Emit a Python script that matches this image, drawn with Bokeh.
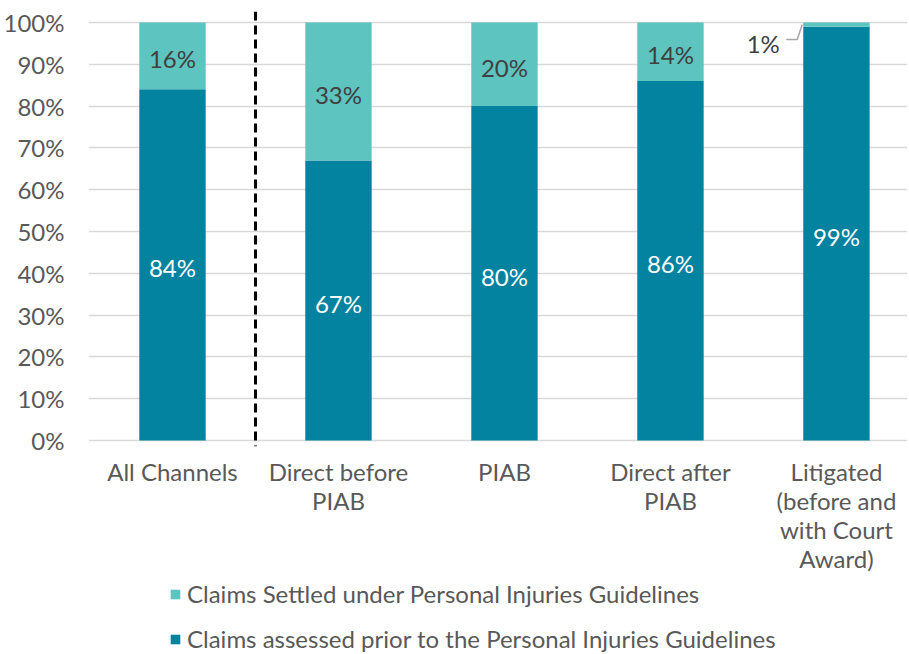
from bokeh.plotting import figure
from bokeh.layouts import column
from bokeh.models import (ColumnDataSource, Range1d, FixedTicker, PrintfTickFormatter,
                          LabelSet, Legend, LegendItem, Span)
from bokeh.core.properties import value
from bokeh.embed import file_html
from bokeh.resources import INLINE

categories = ["All Channels", "Direct before\nPIAB", "PIAB", "Direct after\nPIAB",
              "Litigated\n(before and\nwith Court\nAward)"]
assessed = [84, 67, 80, 86, 99]
settled = [16, 33, 20, 14, 1]
y_ticks = [0, 10, 20, 30, 40, 50, 60, 70, 80, 90, 100]
series_names = ["Claims Settled under Personal Injuries Guidelines",
                "Claims assessed prior to the Personal Injuries Guidelines"]

DARK = "#03839F"
LIGHT = "#5DC4C0"
GREY = "#595959"
FONT = "Lato"
FS = "24px"
BAR_W = 0.4
W = 907

idx = list(range(len(categories)))
source = ColumnDataSource(dict(x=idx, assessed=assessed, settled=settled))

p = figure(width=W, height=575, output_backend="svg", toolbar_location=None,
           x_range=Range1d(-0.506, 4.428), y_range=Range1d(-1.44, 102.63),
           min_border_left=70, min_border_right=0, min_border_top=11, min_border_bottom=129)
p.outline_line_color = None
p.background_fill_color = "white"

renderers = p.vbar_stack(["assessed", "settled"], x="x", width=BAR_W, color=[DARK, LIGHT],
                         line_color=None, source=source)

# axes
p.yaxis.ticker = FixedTicker(ticks=y_ticks)
p.yaxis.formatter = PrintfTickFormatter(format="%d%%")
p.yaxis.axis_line_color = None
p.yaxis.major_tick_line_color = None
p.yaxis.minor_tick_line_color = None
p.yaxis.major_label_standoff = 18
p.yaxis.major_label_text_font = FONT
p.yaxis.major_label_text_font_size = FS
p.yaxis.major_label_text_color = GREY

p.xaxis.ticker = FixedTicker(ticks=idx)
p.xaxis.major_label_overrides = {i: c for i, c in zip(idx, categories)}
p.xaxis.axis_line_color = None
p.xaxis.major_tick_line_color = None
p.xaxis.minor_tick_line_color = None
p.xaxis.major_label_standoff = 4
p.xaxis.major_label_text_font = FONT
p.xaxis.major_label_text_font_size = FS
p.xaxis.major_label_text_color = GREY
p.xaxis.major_label_text_line_height = 1.0

p.xgrid.grid_line_color = None
p.ygrid.grid_line_color = "#D9D9D9"
p.ygrid.grid_line_width = 1.5

# separator between "All Channels" and the channel breakdown
p.add_layout(Span(location=(idx[0] + idx[1]) / 2, dimension="height", line_color="black",
                  line_width=3, line_dash="9 5"))

# data labels
dark_lab = ColumnDataSource(dict(x=idx, y=[a / 2 for a in assessed],
                                 t=[f"{a}%" for a in assessed]))
p.add_layout(LabelSet(x="x", y="y", text="t", source=dark_lab, text_align="center",
                      text_baseline="middle", text_color="white", text_font=value(FONT),
                      text_font_size=value(FS), y_offset=-3))

inside = [i for i in idx if settled[i] >= 5]
outside = [i for i in idx if settled[i] < 5]
light_lab = ColumnDataSource(dict(x=[idx[i] for i in inside],
                                  y=[assessed[i] + settled[i] / 2 for i in inside],
                                  t=[f"{settled[i]}%" for i in inside]))
p.add_layout(LabelSet(x="x", y="y", text="t", source=light_lab, text_align="center",
                      text_baseline="middle", text_color="#404040", text_font=value(FONT),
                      text_font_size=value(FS), y_offset=-3))

# outside label with leader line
px_x = 166.0   # pixels per x unit
px_y = 4.18    # pixels per y unit
for i in outside:
    ax = idx[i] - BAR_W / 2
    ay = assessed[i] + settled[i] / 2
    lab = ColumnDataSource(dict(x=[ax], y=[ay], t=[f"{settled[i]}%"]))
    p.add_layout(LabelSet(x="x", y="y", text="t", source=lab, text_align="center",
                          text_baseline="middle", text_color="#404040", text_font=value(FONT),
                          text_font_size=value(FS), x_offset=-40, y_offset=-19))
    p.line(x=[ax - 17 / px_x, ax - 6 / px_x, ax - 1 / px_x],
           y=[ay - 15 / px_y, ay - 15 / px_y, ay],
           line_color="#A6A6A6", line_width=1.5)

# legend in its own strip below the chart
leg = figure(width=W, height=77, output_backend="svg", toolbar_location=None,
             x_axis_type=None, y_axis_type=None, min_border=0,
             x_range=Range1d(0, 1), y_range=Range1d(0, 1))
leg.outline_line_color = None
leg.grid.grid_line_color = None
r_set = leg.vbar(x=[-5], top=[-5], width=0.1, color=LIGHT, line_color=None)
r_ass = leg.vbar(x=[-5], top=[-5], width=0.1, color=DARK, line_color=None)
legend = Legend(items=[LegendItem(label=series_names[0], renderers=[r_set]),
                       LegendItem(label=series_names[1], renderers=[r_ass])],
                location=(81, -1), orientation="vertical",
                label_text_font=FONT, label_text_font_size=FS, label_text_color=GREY,
                glyph_width=12, glyph_height=12, label_height=12, label_standoff=6,
                spacing=16, padding=0, margin=0,
                border_line_color=None, background_fill_alpha=0)
leg.add_layout(legend, "center")

open("out.html", "w").write(file_html(column(p, leg, spacing=0), INLINE))
